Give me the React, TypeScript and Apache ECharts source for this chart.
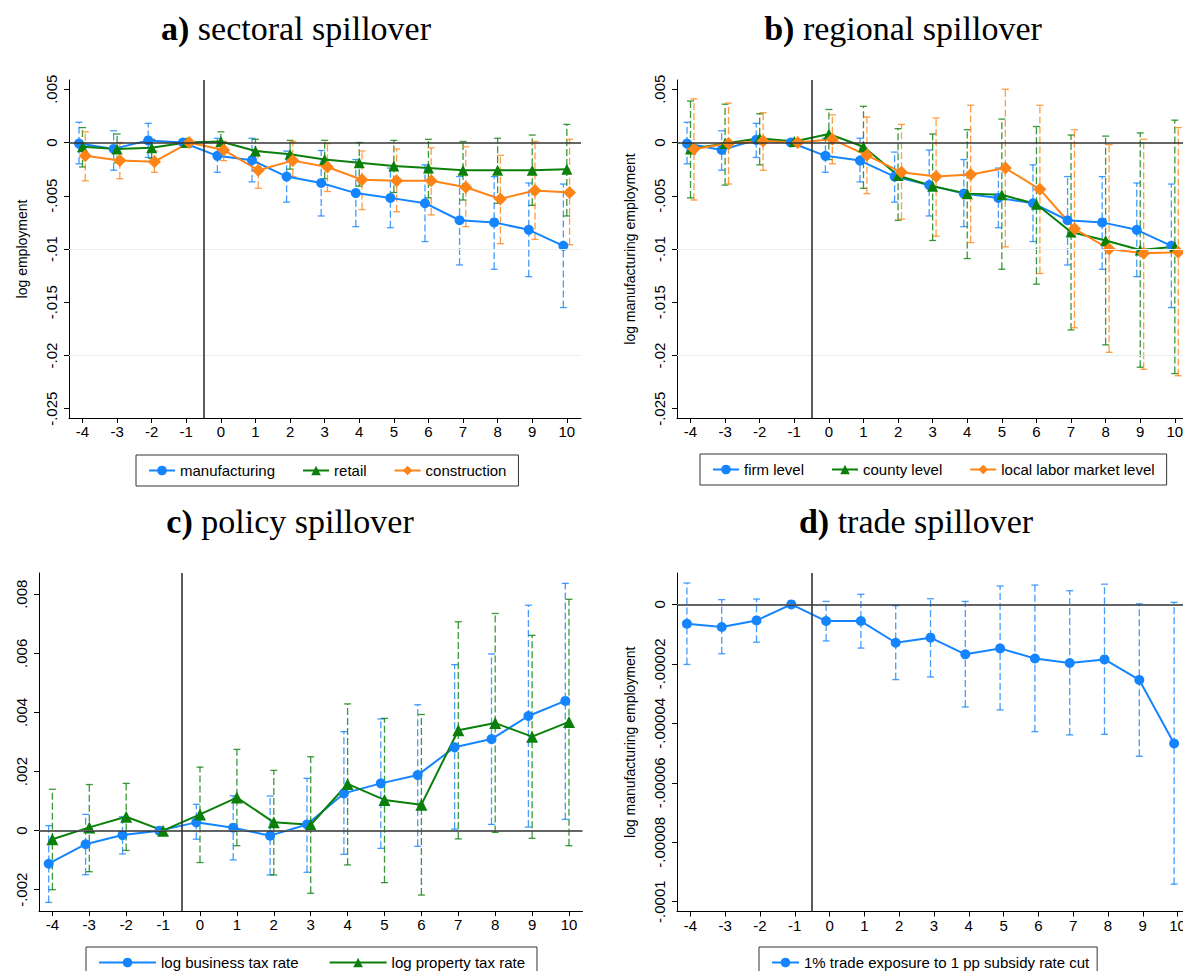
import React, { useEffect, useRef } from "react";
import * as echarts from "echarts";

// ---------- data ----------
const EVENTS = [-4, -3, -2, -1, 0, 1, 2, 3, 4, 5, 6, 7, 8, 9, 10];

// a) sectoral spillover
const A_MFG = [-0.0001, -0.0006, 0.0002, 0, -0.00125, -0.00166, -0.0032, -0.0038, -0.00475, -0.0052, -0.0057, -0.0073, -0.0075, -0.0082, -0.0097];
const A_MFG_LO = [-0.002, -0.0026, -0.0014, 0, -0.0028, -0.0037, -0.0056, -0.0069, -0.0079, -0.008, -0.0093, -0.0115, -0.0119, -0.0126, -0.0155];
const A_MFG_HI = [0.0019, 0.0011, 0.0018, 0, 0.0004, 0.0004, -0.0008, -0.00075, -0.0016, -0.0024, -0.0021, -0.0032, -0.0032, -0.0038, -0.0039];
const A_RET = [-0.0004, -0.0006, -0.0005, 0, 0.0001, -0.0008, -0.0011, -0.0016, -0.0019, -0.0022, -0.0024, -0.0026, -0.0026, -0.0026, -0.0025];
const A_RET_LO = [-0.0023, -0.0019, -0.0015, 0, -0.0008, -0.0019, -0.0025, -0.0034, -0.0041, -0.0047, -0.0052, -0.0054, -0.0057, -0.0059, -0.0069];
const A_RET_HI = [0.0014, 0.0008, 0.0003, 0, 0.001, 0.0003, 0.0002, 0.0002, 0, 0.0002, 0.0003, 0.0001, 0.0004, 0.0007, 0.0017];
const A_CON = [-0.00125, -0.0017, -0.0018, 0, -0.0007, -0.0026, -0.0017, -0.0023, -0.0035, -0.0036, -0.0036, -0.0042, -0.0053, -0.0045, -0.0047];
const A_CON_LO = [-0.0036, -0.0034, -0.0028, 0, -0.0017, -0.0043, -0.0032, -0.0046, -0.0063, -0.0065, -0.0068, -0.0079, -0.0095, -0.0091, -0.0096];
const A_CON_HI = [0.001, 0, -0.0008, 0, 0.0001, -0.0008, 0.0001, -0.0001, -0.0008, -0.0006, -0.0005, -0.0004, -0.0012, 0.0001, 0.0003];

// b) regional spillover
const B_FIRM = [-0.0001, -0.0007, 0.00025, 0, -0.00125, -0.0017, -0.0032, -0.004, -0.0048, -0.0052, -0.0057, -0.0073, -0.0075, -0.0082, -0.0097];
const B_FIRM_LO = [-0.002, -0.0026, -0.0014, 0, -0.0028, -0.0037, -0.0056, -0.0069, -0.0079, -0.008, -0.0093, -0.0115, -0.0119, -0.0126, -0.0155];
const B_FIRM_HI = [0.0019, 0.0011, 0.0018, 0, 0.0004, 0.0004, -0.0009, -0.0007, -0.0016, -0.0024, -0.0021, -0.0032, -0.0032, -0.0038, -0.0039];
const B_CTY = [-0.0006, -0.0001, 0.0004, 0.0001, 0.0008, -0.0004, -0.0031, -0.0041, -0.0048, -0.0049, -0.0058, -0.0084, -0.0092, -0.0101, -0.0098];
const B_CTY_LO = [-0.0052, -0.004, -0.0021, 0.0001, -0.0016, -0.0043, -0.0073, -0.0092, -0.0109, -0.0119, -0.0133, -0.0176, -0.019, -0.0211, -0.0217];
const B_CTY_HI = [0.0039, 0.0036, 0.0027, 0.0001, 0.0031, 0.0034, 0.0013, 0.0008, 0.0012, 0.0022, 0.0015, 0.0007, 0.0006, 0.0009, 0.0021];
const B_LLM = [-0.0006, -0.0001, 0.00015, 0, 0.0003, -0.0012, -0.0028, -0.0032, -0.003, -0.0024, -0.0044, -0.0081, -0.01, -0.0104, -0.0103];
const B_LLM_LO = [-0.0054, -0.0039, -0.0026, 0, -0.002, -0.0048, -0.0072, -0.0088, -0.0094, -0.0098, -0.0123, -0.0174, -0.0197, -0.0213, -0.0219];
const B_LLM_HI = [0.0041, 0.0037, 0.0028, 0, 0.0026, 0.0024, 0.0017, 0.0023, 0.0035, 0.005, 0.0035, 0.0012, -0.0002, 0.0003, 0.0014];

// c) policy spillover
const C_BUS = [-0.00112, -0.00046, -0.00015, 0, 0.00028, 0.0001, -0.00017, 0.00021, 0.00126, 0.0016, 0.00188, 0.00282, 0.0031, 0.00388, 0.00439];
const C_BUS_LO = [-0.00243, -0.00149, -0.00079, 0, -0.00029, -0.00099, -0.0015, -0.00141, -0.0008, -0.0006, -0.00053, 0.00005, 0.00021, 0.00012, 0.00038];
const C_BUS_HI = [0.00017, 0.00055, 0.00047, 0, 0.00089, 0.00118, 0.00117, 0.00177, 0.00335, 0.00378, 0.00426, 0.00562, 0.00598, 0.00763, 0.00837];
const C_PROP = [-0.00029, 0.00011, 0.00047, 0, 0.00055, 0.00112, 0.00028, 0.0002, 0.00158, 0.00104, 0.00088, 0.0034, 0.00364, 0.00318, 0.00368];
const C_PROP_LO = [-0.002, -0.00139, -0.00067, 0, -0.00108, -0.00051, -0.0015, -0.00212, -0.00116, -0.00176, -0.00218, -0.00028, -0.00006, -0.00026, -0.00051];
const C_PROP_HI = [0.0014, 0.00156, 0.0016, 0, 0.00215, 0.00275, 0.00204, 0.0025, 0.00429, 0.0038, 0.00393, 0.00707, 0.00735, 0.00661, 0.00783];

// d) trade spillover
const D_TRADE = [-0.0000065, -0.0000076, -0.0000054, 0, -0.0000056, -0.0000056, -0.0000129, -0.0000112, -0.0000168, -0.0000148, -0.0000182, -0.0000197, -0.0000185, -0.0000254, -0.0000468];
const D_TRADE_LO = [-0.0000202, -0.0000166, -0.0000127, 0, -0.0000123, -0.0000147, -0.0000253, -0.0000244, -0.0000345, -0.0000355, -0.0000428, -0.0000439, -0.0000437, -0.0000511, -0.0000941];
const D_TRADE_HI = [0.0000072, 0.0000016, 0.0000018, 0, 0.000001, 0.0000034, -0.0000004, 0.0000019, 0.000001, 0.0000062, 0.0000065, 0.0000046, 0.0000068, 0.0000002, 0.0000007];

// tick labels
const Y_TICKS_AB = [-0.025, -0.02, -0.015, -0.01, -0.005, 0, 0.005];
const Y_TICKS_C = [-0.002, 0, 0.002, 0.004, 0.006, 0.008];
const Y_TICKS_D = [-0.0001, -0.00008, -0.00006, -0.00004, -0.00002, 0];

// ---------- styles ----------
const SANS = "'Liberation Sans', Arial, sans-serif";
const SERIF = "'Liberation Serif', 'Times New Roman', serif";
const BLUE = "#1585ff";
const GREEN = "#0a800a";
const ORANGE = "#ff8417";

function fmt(v: number): string {
  if (Math.abs(v) < 1e-12) return "0";
  const s = String(parseFloat(v.toPrecision(8)));
  return s.replace(/^(-?)0\./, "$1.");
}

function xAxisFor(gridIndex: number, min: number, max: number) {
  return {
    type: "value",
    gridIndex,
    min,
    max,
    axisLine: { show: true, onZero: false, lineStyle: { color: "#000", width: 1 } },
    axisTick: { show: true, customValues: EVENTS, length: 5, lineStyle: { color: "#000", width: 1 } },
    axisLabel: {
      customValues: EVENTS,
      fontSize: 15,
      fontFamily: SANS,
      color: "#000",
      margin: 6,
      formatter: (v: number) => String(v),
    },
    splitLine: { show: false },
  };
}

function yAxisFor(gridIndex: number, min: number, max: number, ticks: number[], name: string) {
  return {
    type: "value",
    gridIndex,
    min,
    max,
    name,
    nameLocation: "middle",
    nameGap: 40,
    nameRotate: 90,
    nameTextStyle: { fontSize: 14, fontFamily: SANS, color: "#000" },
    axisLine: { show: true, onZero: false, lineStyle: { color: "#000", width: 1 } },
    axisTick: { show: true, customValues: ticks, length: 5, lineStyle: { color: "#000", width: 1 } },
    axisLabel: {
      customValues: ticks,
      rotate: 90,
      margin: 10,
      fontSize: 15,
      fontFamily: SANS,
      color: "#000",
      formatter: (v: number) => fmt(v),
    },
    splitLine: { show: false },
  };
}

function refLines(idx: number, ticks: number[]) {
  return {
    type: "line",
    name: "_ref" + idx,
    xAxisIndex: idx,
    yAxisIndex: idx,
    data: [],
    silent: true,
    z: 1,
    markLine: {
      silent: true,
      symbol: ["none", "none"],
      label: { show: false },
      animation: false,
      data: [
        ...ticks
          .filter((v) => Math.abs(v) > 1e-12)
          .map((v) => ({ yAxis: v, lineStyle: { color: "#e4eeee", width: 1, type: "solid" } })),
        { yAxis: 0, lineStyle: { color: "#333", width: 1.6, type: "solid" } },
        { xAxis: -0.5, lineStyle: { color: "#333", width: 1.6, type: "solid" } },
      ],
    },
  };
}

function errBars(idx: number, name: string, off: number, lo: number[], hi: number[], color: string) {
  const data = EVENTS.map((e, i) => [e + off, lo[i], hi[i]]).filter((d) => d[1] !== d[2]);
  return {
    type: "custom",
    name: "_ci_" + name,
    xAxisIndex: idx,
    yAxisIndex: idx,
    z: 2,
    silent: true,
    encode: { x: 0, y: [1, 2] },
    data,
    renderItem: (params: any, api: any) => {
      const x = api.value(0);
      const pLo = api.coord([x, api.value(1)]);
      const pHi = api.coord([x, api.value(2)]);
      const cap = 3.5;
      const st = { stroke: color, lineWidth: 1.3, opacity: 0.8 };
      return {
        type: "group",
        children: [
          {
            type: "line",
            shape: { x1: pLo[0], y1: pLo[1], x2: pHi[0], y2: pHi[1] },
            style: { ...st, lineDash: [7, 3] },
          },
          { type: "line", shape: { x1: pHi[0] - cap, y1: pHi[1], x2: pHi[0] + cap, y2: pHi[1] }, style: st },
          { type: "line", shape: { x1: pLo[0] - cap, y1: pLo[1], x2: pLo[0] + cap, y2: pLo[1] }, style: st },
        ],
      };
    },
  };
}

function lineSeries(idx: number, name: string, off: number, vals: number[], color: string, symbol: string, size: number) {
  return {
    type: "line",
    name,
    xAxisIndex: idx,
    yAxisIndex: idx,
    z: 3,
    data: EVENTS.map((e, i) => [e + off, vals[i]]),
    symbol,
    symbolSize: size,
    showSymbol: true,
    lineStyle: { color, width: 2 },
    itemStyle: { color },
  };
}

function legendFor(names: string[], left: number, top: number, itemWidth: number, itemGap: number, padR = 12) {
  return {
    data: names,
    left,
    top,
    orient: "horizontal",
    borderColor: "#333",
    borderWidth: 1,
    borderRadius: 0,
    padding: [8, padR, 8, 12],
    itemWidth,
    itemHeight: 12,
    itemGap,
    selectedMode: false,
    textStyle: { fontSize: 15, fontFamily: SANS, color: "#000" },
  };
}

function titleFor(letter: string, text: string, cx: number, cy: number) {
  return {
    type: "text",
    x: cx,
    y: cy,
    silent: true,
    style: {
      text: `{b|${letter}} {n|${text}}`,
      textAlign: "center",
      textVerticalAlign: "middle",
      fill: "#000",
      font: `34px ${SERIF}`,
      rich: {
        b: { fontFamily: SERIF, fontSize: 34, fontWeight: "bold", fill: "#000" },
        n: { fontFamily: SERIF, fontSize: 34, fontWeight: "normal", fill: "#000" },
      },
    },
  };
}

export default function App() {
  const ref = useRef<HTMLDivElement>(null);
  useEffect(() => {
    if (!ref.current) return;
    const chart = echarts.init(ref.current, undefined, { renderer: "svg" });
    const option: any = {
      animation: false,
      backgroundColor: "#fff",
      graphic: [
        titleFor("a)", "sectoral spillover", 296, 28),
        titleFor("b)", "regional spillover", 903, 28),
        titleFor("c)", "policy spillover", 290, 521),
        titleFor("d)", "trade spillover", 916, 521),
      ],
      grid: [
        { left: 69, top: 80, width: 512, height: 338, outerBoundsMode: "none" },
        { left: 677, top: 80, width: 512, height: 338, outerBoundsMode: "none" },
        { left: 39, top: 573, width: 543.5, height: 338, outerBoundsMode: "none" },
        { left: 677, top: 573, width: 514.5, height: 338.5, outerBoundsMode: "none" },
      ],
      xAxis: [
        xAxisFor(0, -4.39, 10.41),
        xAxisFor(1, -4.39, 10.41),
        xAxisFor(2, -4.363, 10.366),
        xAxisFor(3, -4.385, 10.4),
      ],
      yAxis: [
        yAxisFor(0, -0.02587, 0.00587, Y_TICKS_AB, "log employment"),
        yAxisFor(1, -0.02587, 0.00587, Y_TICKS_AB, "log manufacturing employment"),
        yAxisFor(2, -0.00272, 0.00872, Y_TICKS_C, ""),
        yAxisFor(3, -0.0001033, 0.00001056, Y_TICKS_D, "log manufacturing employment"),
      ],
      legend: [
        legendFor(["manufacturing", "retail", "construction"], 136, 455, 26, 27),
        legendFor(["firm level", "county level", "local labor market level"], 700, 454, 26, 27),
        legendFor(["log business tax rate", "log property tax rate"], 86, 947, 57, 30),
        legendFor(["1% trade exposure to 1 pp subsidy rate cut"], 759, 947, 27, 20, 8),
      ],
      series: [
        refLines(0, Y_TICKS_AB),
        refLines(1, Y_TICKS_AB),
        refLines(2, Y_TICKS_C),
        refLines(3, Y_TICKS_D),

        errBars(0, "mfg", -0.1, A_MFG_LO, A_MFG_HI, BLUE),
        errBars(0, "ret", 0, A_RET_LO, A_RET_HI, GREEN),
        errBars(0, "con", 0.08, A_CON_LO, A_CON_HI, ORANGE),
        lineSeries(0, "manufacturing", -0.1, A_MFG, BLUE, "circle", 10),
        lineSeries(0, "retail", 0, A_RET, GREEN, "triangle", 11),
        lineSeries(0, "construction", 0.08, A_CON, ORANGE, "diamond", 13),

        errBars(1, "firm", -0.1, B_FIRM_LO, B_FIRM_HI, BLUE),
        errBars(1, "cty", 0, B_CTY_LO, B_CTY_HI, GREEN),
        errBars(1, "llm", 0.1, B_LLM_LO, B_LLM_HI, ORANGE),
        lineSeries(1, "firm level", -0.1, B_FIRM, BLUE, "circle", 10),
        lineSeries(1, "county level", 0, B_CTY, GREEN, "triangle", 11),
        lineSeries(1, "local labor market level", 0.1, B_LLM, ORANGE, "diamond", 13),

        errBars(2, "bus", -0.1, C_BUS_LO, C_BUS_HI, BLUE),
        errBars(2, "prop", 0, C_PROP_LO, C_PROP_HI, GREEN),
        lineSeries(2, "log business tax rate", -0.1, C_BUS, BLUE, "circle", 10),
        lineSeries(2, "log property tax rate", 0, C_PROP, GREEN, "triangle", 12),

        errBars(3, "trade", -0.1, D_TRADE_LO, D_TRADE_HI, BLUE),
        lineSeries(3, "1% trade exposure to 1 pp subsidy rate cut", -0.1, D_TRADE, BLUE, "circle", 10),
      ],
    };
    chart.setOption(option);
    return () => chart.dispose();
  }, []);
  return (
    <div
      ref={ref}
      style={{ position: "absolute", left: 0, top: 0, width: 1183, height: 971, background: "#fff" }}
    />
  );
}
